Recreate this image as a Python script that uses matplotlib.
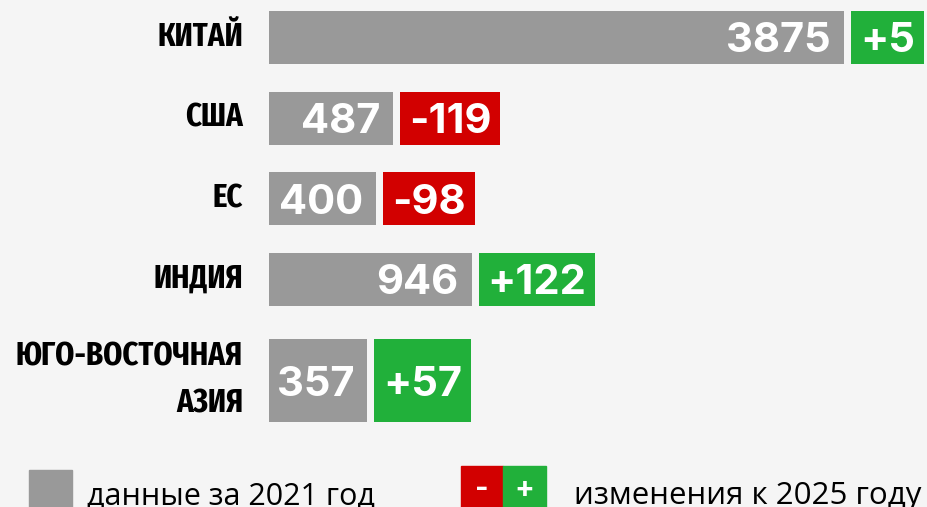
import numpy as np
import matplotlib
matplotlib.use('Agg')
import matplotlib.pyplot as plt
from matplotlib import transforms
from matplotlib.patches import Rectangle

# data: 2021 values and change by 2025
categories = ['КИТАЙ', 'США', 'ЕС', 'ИНДИЯ', 'ЮГО-ВОСТОЧНАЯ\nАЗИЯ']
values_2021 = [3875, 487, 400, 946, 357]
changes_2025 = [5, -119, -98, 122, 57]

legend_base = 'данные за 2021 год'
legend_change = 'изменения к 2025 году'

BG = '#f5f5f5'
GREY = '#999999'
GREEN = '#21b03a'
RED = '#d20000'

LABEL_FONT = ['Fira Sans Extra Condensed', 'Oswald', 'DejaVu Sans']
NUM_FONT = ['Inter', 'Open Sans', 'DejaVu Sans']
TEXT_FONT = ['Open Sans', 'DejaVu Sans']

W, H = 927, 507
P = 0.74  # power scale so the small bars stay readable next to China


def fwd(x):
    x = np.asarray(x, dtype=float)
    return np.sign(x) * np.abs(x) ** P


def inv(x):
    x = np.asarray(x, dtype=float)
    return np.sign(x) * np.abs(x) ** (1 / P)


fig = plt.figure(figsize=(W / 100, H / 100), dpi=100, facecolor=BG)
bar_left = 269
ax = fig.add_axes([bar_left / W, 0, 1 - bar_left / W, 1])
ax.set_xscale('function', functions=(fwd, inv))
ax.set_xlim(0, max(values_2021) * 1.2)
ax.set_ylim(H, 0)  # y in pixels from the top
ax.axis('off')

# row layout: two-line labels get a taller bar and a bit more room above
ys, hs = [], []
top = 11
for c in categories:
    tall = '\n' in c
    if tall and ys:
        top += 6
    h = 83 if tall else 53
    ys.append(top + h / 2)
    hs.append(h)
    top += h + 27.5

ax.barh(ys, values_2021, height=hs, color=GREY, zorder=1)

num_size = 30
num_font = dict(family=NUM_FONT, fontweight='bold', fontsize=num_size, color='white')
cap = num_size * 100 / 72 * 0.72

for y, v in zip(ys, values_2021):
    ax.annotate(str(v), xy=(v, y), xytext=(-13, -cap / 2), textcoords='offset pixels',
                ha='right', va='baseline', zorder=3, **num_font)

# change labels first, then boxes sized around them
gap, pad = 7, 9
change_texts = []
for y, v, d in zip(ys, values_2021, changes_2025):
    lab = f'+{d}' if d > 0 else f'-{abs(d)}'
    t = ax.annotate(lab, xy=(v, y), xytext=(gap + pad, -cap / 2), textcoords='offset pixels',
                    ha='left', va='baseline', zorder=3, **num_font)
    change_texts.append(t)

fig.canvas.draw()
renderer = fig.canvas.get_renderer()
to_data = ax.transData.inverted()
for t, y, h, d in zip(change_texts, ys, hs, changes_2025):
    bb = t.get_window_extent(renderer)
    xa = to_data.transform((bb.x0 - pad, 0))[0]
    xb = to_data.transform((bb.x1 + pad, 0))[0]
    ax.barh(y, xb - xa, left=xa, height=h, color=GREEN if d > 0 else RED, zorder=2)

# category labels, right-aligned left of the bars
trans = transforms.blended_transform_factory(fig.transFigure, ax.transData)
for y, c in zip(ys, categories):
    ax.text(243 / W, y, c, transform=trans, ha='right', va='center',
            family=LABEL_FONT, fontweight='bold', fontsize=24,
            color='black', linespacing=1.62)

# legend along the bottom edge
fig.add_artist(Rectangle((29 / W, 0), 43 / W, 37 / H, transform=fig.transFigure,
                         color=GREY))
fig.text(87 / W, 3 / H, legend_base, family=TEXT_FONT, fontsize=22,
         ha='left', va='baseline', color='black')
fig.add_artist(Rectangle((461 / W, 0), 42 / W, 41 / H, transform=fig.transFigure,
                         color=RED))
fig.add_artist(Rectangle((503 / W, 0), 43 / W, 41 / H, transform=fig.transFigure,
                         color=GREEN))
fig.text(482 / W, 18 / H, '-', family=NUM_FONT, fontweight='bold', fontsize=21,
         ha='center', va='center', color='white')
fig.text(524.5 / W, 18 / H, '+', family=NUM_FONT, fontweight='bold', fontsize=21,
         ha='center', va='center', color='white')
fig.text(574 / W, 3 / H, legend_change, family=TEXT_FONT, fontsize=22.5,
         ha='left', va='baseline', color='black')

fig.savefig('out.png', dpi=100, facecolor=BG)
